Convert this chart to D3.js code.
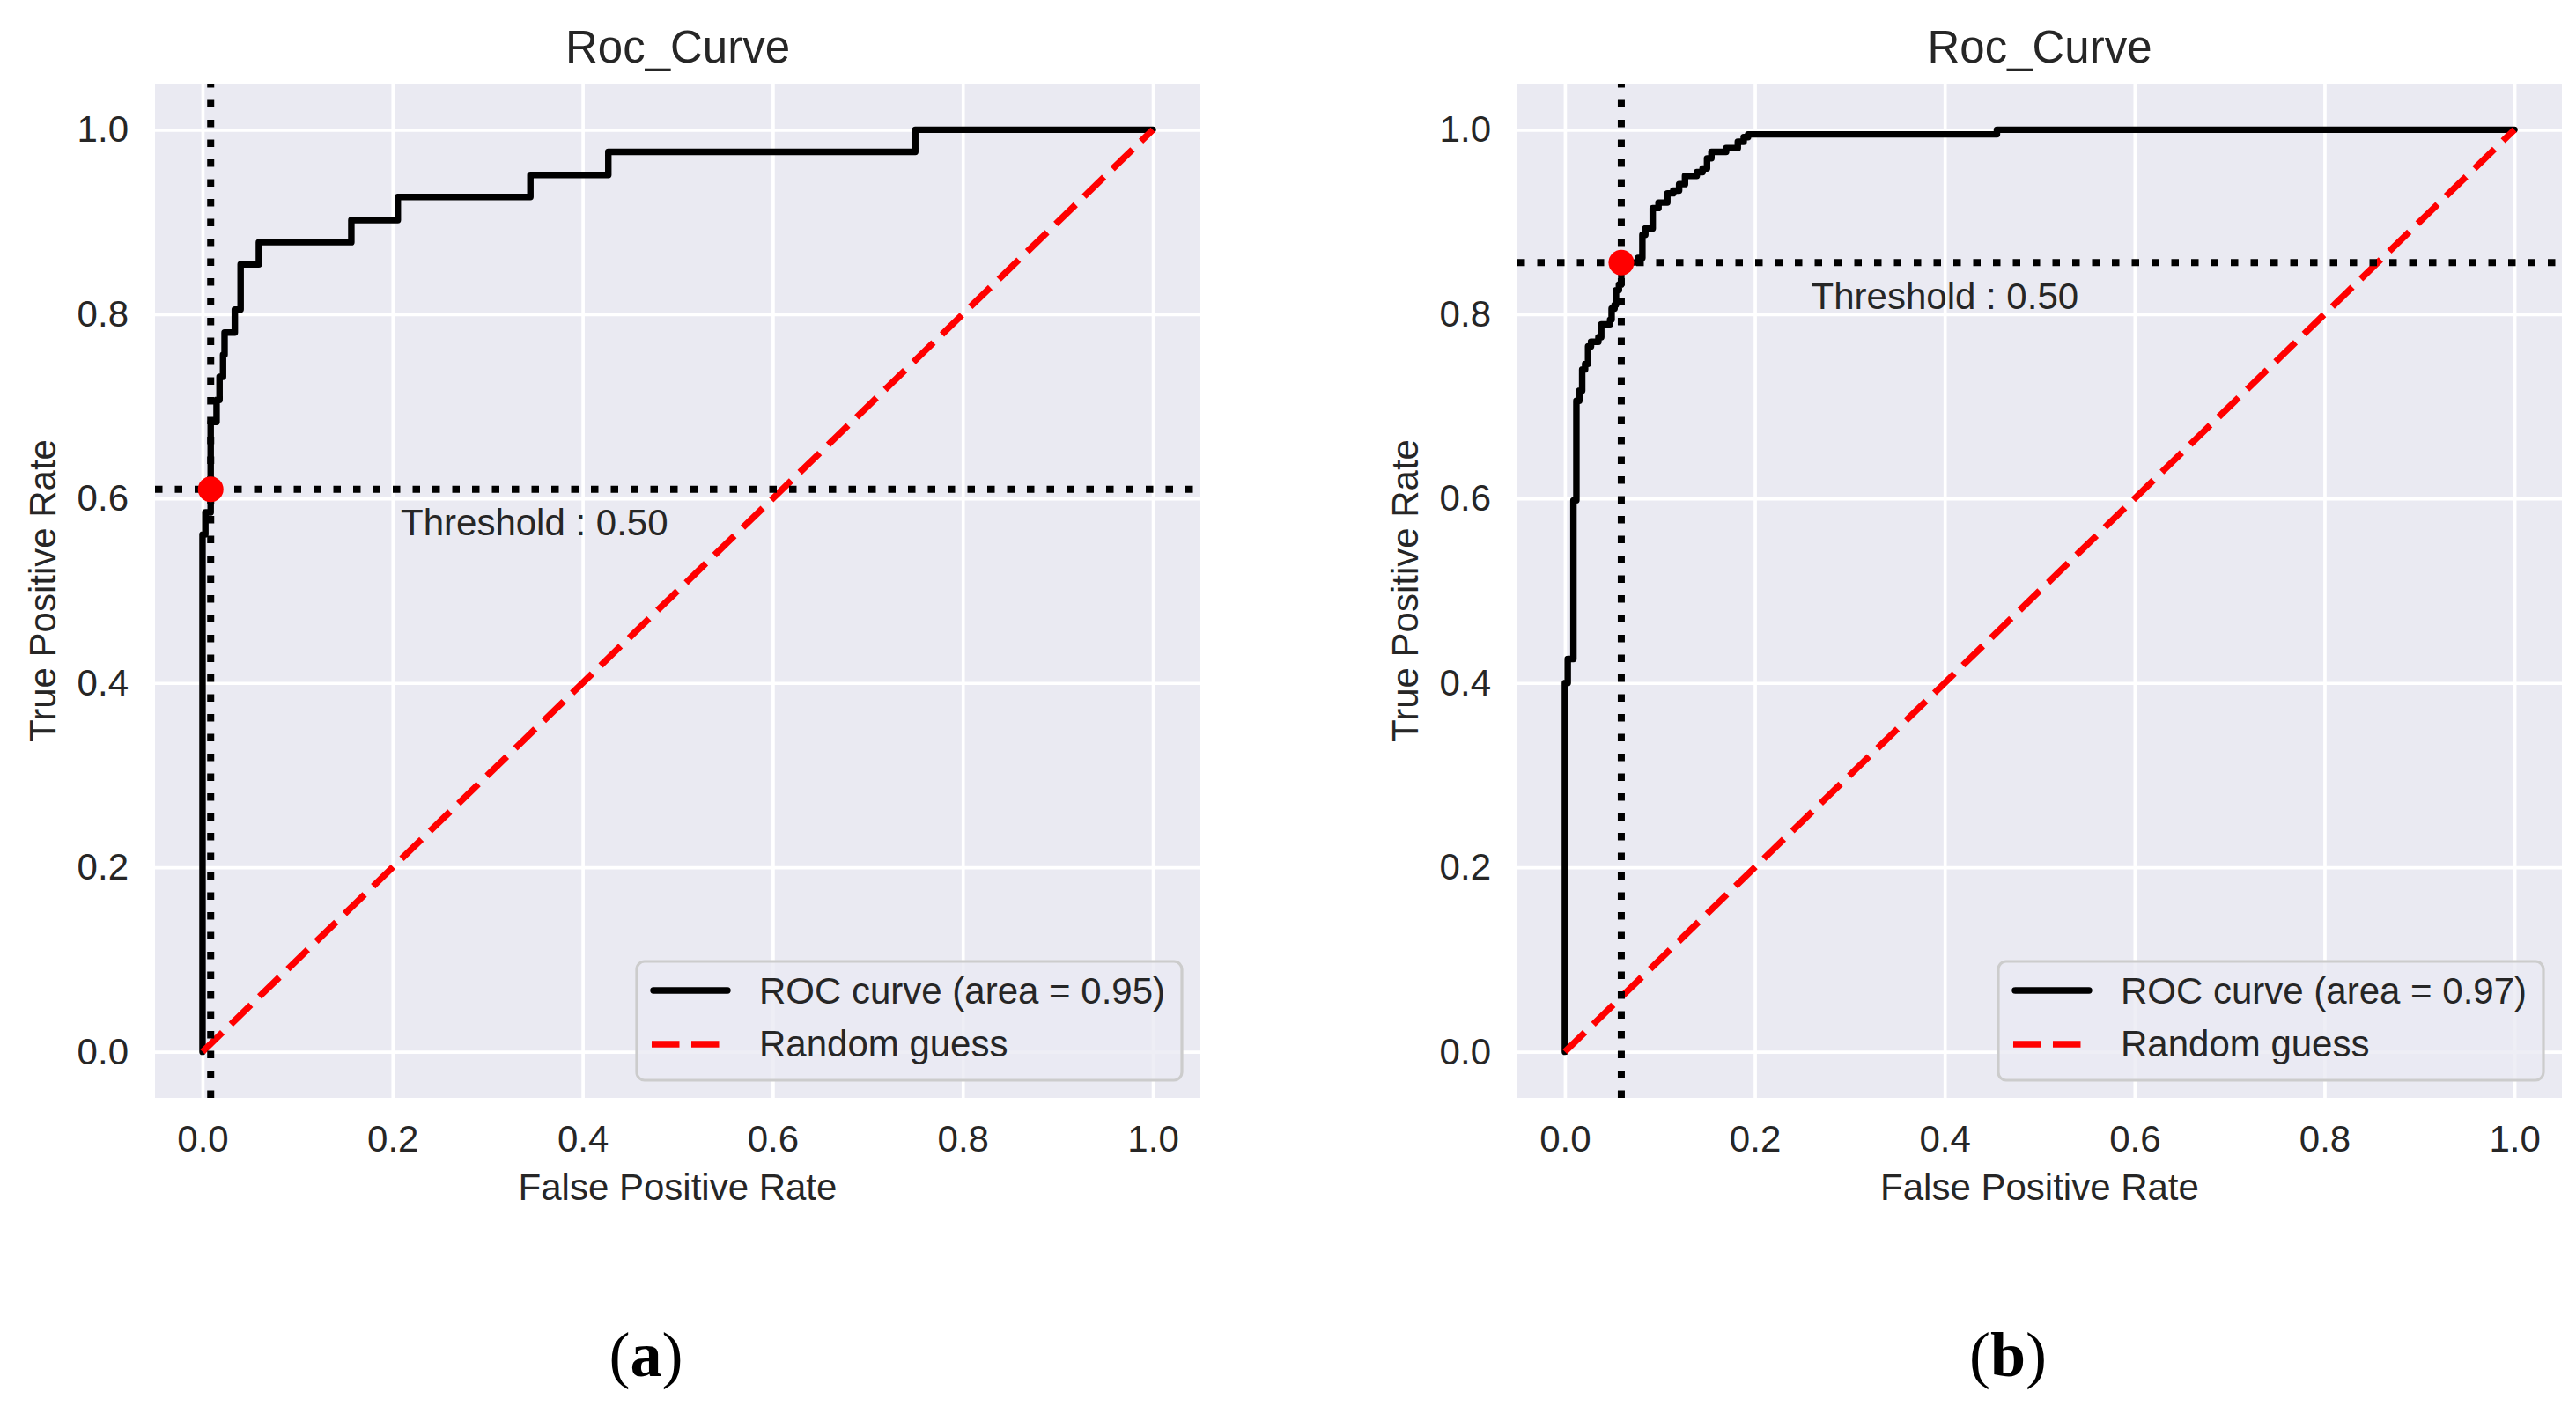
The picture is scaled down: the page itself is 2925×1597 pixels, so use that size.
<!DOCTYPE html>
<html>
<head>
<meta charset="utf-8">
<script src="https://cdn.jsdelivr.net/npm/d3@7"></script>
<style>
  html, body { margin: 0; padding: 0; background: #ffffff; }
  text { font-family: "Liberation Sans", Arial, sans-serif; fill: #262626; }
</style>
</head>
<body>
<svg id="fig" width="2925" height="1597"></svg>
<script>
/* tick values shared by both panels */
var xTicks = [0, 0.2, 0.4, 0.6, 0.8, 1.0];
var yTicks = [0, 0.2, 0.4, 0.6, 0.8, 1.0];

/* panel (a): roc curve corners */
var fprA = [0, 0, 0.003, 0.0086, 0.0148, 0.0179, 0.0216, 0.0232, 0.034, 0.0401,
            0.0593, 0.1566, 0.2055, 0.345, 0.427, 0.75, 1];
var tprA = [0, 0.561, 0.585, 0.683, 0.707, 0.732, 0.756, 0.780, 0.805, 0.854,
            0.878, 0.902, 0.927, 0.951, 0.976, 1.0, 1.0];

/* panel (b) */
var fprB = [0, 0, 0.003, 0.009, 0.0121, 0.0152, 0.0182, 0.0213, 0.0244, 0.0275,
            0.0353, 0.0383, 0.0476, 0.0492, 0.0523, 0.0538, 0.0569, 0.0594, 0.077,
            0.0816, 0.0847, 0.0925, 0.0986, 0.1079, 0.1141, 0.1203, 0.1265, 0.1389,
            0.145, 0.1497, 0.1543, 0.1698, 0.1821, 0.1883, 0.1929, 0.455, 1];
var tprB = [0, 0.40, 0.426, 0.598, 0.706, 0.717, 0.740, 0.746, 0.765, 0.770,
            0.775, 0.789, 0.794, 0.806, 0.810, 0.826, 0.832, 0.856, 0.861,
            0.886, 0.893, 0.915, 0.921, 0.931, 0.934, 0.941, 0.950, 0.954,
            0.958, 0.969, 0.976, 0.980, 0.987, 0.992, 0.995, 1.0, 1.0];

/* random guess diagonal */
var guessX = [0, 1];
var guessY = [0, 1];

/* operating point at threshold 0.5, area under curve */
var thresholdFpr = [0.0086, 0.0594];
var thresholdTpr = [0.61, 0.856];
var thresholdText = "Threshold : 0.50";
var aucValues = [0.95, 0.97];
var panelLetters = ["a", "b"];

var svg = d3.select("#fig");

var panels = [
  {fpr: fprA, tpr: tprA, left: 176, right: 1363, k: 0},
  {fpr: fprB, tpr: tprB, left: 1723, right: 2909, k: 1}
];
var plotTop = 95, plotBottom = 1247;

panels.forEach(function(p) {
  var x = d3.scaleLinear().domain([-0.05, 1.05]).range([p.left, p.right]);
  var y = d3.scaleLinear().domain([-0.05, 1.05]).range([plotBottom, plotTop]);
  var g = svg.append("g");

  /* background and grid */
  g.append("rect")
    .attr("x", p.left).attr("y", plotTop)
    .attr("width", p.right - p.left).attr("height", plotBottom - plotTop)
    .attr("fill", "#eaeaf2");

  var gx = g.append("g").attr("transform", "translate(0," + plotBottom + ")")
    .call(d3.axisBottom(x).tickValues(xTicks).tickSize(-(plotBottom - plotTop)).tickFormat(""));
  var gy = g.append("g").attr("transform", "translate(" + p.left + ",0)")
    .call(d3.axisLeft(y).tickValues(yTicks).tickSize(-(p.right - p.left)).tickFormat(""));
  [gx, gy].forEach(function(a) {
    a.select(".domain").remove();
    a.selectAll("line").attr("stroke", "#ffffff").attr("stroke-width", 3.7);
  });

  /* tick labels */
  var lx = g.append("g").attr("transform", "translate(0," + plotBottom + ")")
    .call(d3.axisBottom(x).tickValues(xTicks).tickSize(0).tickPadding(31).tickFormat(d3.format(".1f")));
  var ly = g.append("g").attr("transform", "translate(" + p.left + ",0)")
    .call(d3.axisLeft(y).tickValues(yTicks).tickSize(0).tickPadding(30).tickFormat(d3.format(".1f")));
  [lx, ly].forEach(function(a) {
    a.select(".domain").remove();
    a.selectAll("text").attr("font-size", 42)
      .attr("font-family", "Liberation Sans, Arial, sans-serif").attr("fill", "#262626");
  });

  /* roc curve */
  var pts = p.fpr.map(function(v, i) { return [v, p.tpr[i]]; });
  var line = d3.line().x(function(d) { return x(d[0]); }).y(function(d) { return y(d[1]); });
  g.append("path")
    .attr("d", line.curve(d3.curveStepAfter)(pts))
    .attr("fill", "none").attr("stroke", "#000000").attr("stroke-width", 7.4)
    .attr("stroke-linejoin", "round").attr("stroke-linecap", "round");

  /* random guess */
  var gpts = guessX.map(function(v, i) { return [v, guessY[i]]; });
  g.append("path")
    .attr("d", d3.line().x(function(d) { return x(d[0]); }).y(function(d) { return y(d[1]); })(gpts))
    .attr("fill", "none").attr("stroke", "#ff0000").attr("stroke-width", 7.4)
    .attr("stroke-dasharray", "31.5,13.5");

  /* threshold cross-hair */
  var tf = thresholdFpr[p.k], tt = thresholdTpr[p.k];
  g.append("line")
    .attr("x1", x(tf)).attr("x2", x(tf)).attr("y1", plotBottom).attr("y2", plotTop)
    .attr("stroke", "#000000").attr("stroke-width", 8).attr("stroke-dasharray", "8.5,14");
  g.append("line")
    .attr("x1", p.left).attr("x2", p.right).attr("y1", y(tt)).attr("y2", y(tt))
    .attr("stroke", "#000000").attr("stroke-width", 8).attr("stroke-dasharray", "8.5,14");
  g.append("circle")
    .attr("cx", x(tf)).attr("cy", y(tt)).attr("r", 14.5).attr("fill", "#ff0000");
  g.append("text")
    .attr("x", x(tf + 0.2)).attr("y", y(tt - 0.05))
    .attr("font-size", 42).text(thresholdText);

  /* title and axis labels */
  var cx = (p.left + p.right) / 2;
  g.append("text").attr("x", cx).attr("y", 70.7).attr("text-anchor", "middle")
    .attr("font-size", 51).text("Roc_Curve");
  g.append("text").attr("x", cx).attr("y", 1363).attr("text-anchor", "middle")
    .attr("font-size", 42).text("False Positive Rate");
  g.append("text")
    .attr("transform", "translate(" + (p.left - 113) + "," + ((plotTop + plotBottom) / 2) + ") rotate(-90)")
    .attr("text-anchor", "middle").attr("font-size", 42).text("True Positive Rate");

  /* legend */
  var lg = g.append("g");
  var t1 = lg.append("text").attr("font-size", 42)
    .text("ROC curve (area = " + aucValues[p.k].toFixed(2) + ")");
  var tw = t1.node().getComputedTextLength();
  var boxW = 139 + tw + 19, boxH = 135;
  var bx = p.right - 21 - boxW, by = plotBottom - 20 - boxH;
  lg.insert("rect", "text")
    .attr("x", bx).attr("y", by).attr("width", boxW).attr("height", boxH)
    .attr("rx", 9).attr("ry", 9)
    .attr("fill", "#eaeaf2").attr("fill-opacity", 0.8)
    .attr("stroke", "#cccccc").attr("stroke-width", 3.2);
  t1.attr("x", bx + 139).attr("y", by + 47.6);
  lg.append("line")
    .attr("x1", bx + 19).attr("x2", bx + 103).attr("y1", by + 33).attr("y2", by + 33)
    .attr("stroke", "#000000").attr("stroke-width", 7.4).attr("stroke-linecap", "round");
  lg.append("line")
    .attr("x1", bx + 17).attr("x2", bx + 97).attr("y1", by + 94).attr("y2", by + 94)
    .attr("stroke", "#ff0000").attr("stroke-width", 7.4).attr("stroke-dasharray", "31.5,13.5");
  lg.append("text").attr("x", bx + 139).attr("y", by + 108)
    .attr("font-size", 42).text("Random guess");

  /* sub-figure letter */
  var cap = svg.append("text").attr("x", cx - 36).attr("y", 1563)
    .attr("text-anchor", "middle").attr("font-size", 72)
    .style("font-family", "'Liberation Serif', 'Times New Roman', serif").style("fill", "#000000");
  cap.append("tspan").text("(");
  cap.append("tspan").attr("font-weight", "bold").text(panelLetters[p.k]);
  cap.append("tspan").text(")");
});
</script>
</body>
</html>
